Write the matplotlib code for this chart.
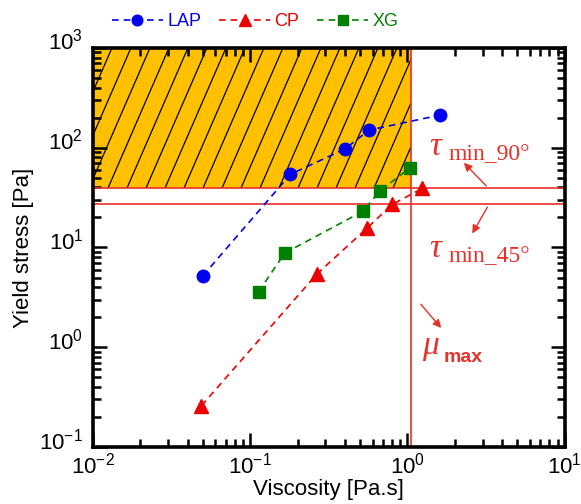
import numpy as np
import matplotlib
matplotlib.use("Agg")
import matplotlib.pyplot as plt
import matplotlib.transforms as mtransforms
from matplotlib.patches import Rectangle
from matplotlib.collections import LineCollection
from matplotlib.ticker import LogLocator, NullFormatter

plt.rcParams['font.family'] = ['Liberation Sans', 'DejaVu Sans']

# Rheology data: viscosity [Pa.s] vs yield stress [Pa]
lap_visc = [0.050, 0.18, 0.40, 0.57, 1.61]
lap_yield = [5.2, 54, 97, 150, 212]

cp_visc = [0.049, 0.265, 0.55, 0.80, 1.24]
cp_yield = [0.26, 5.4, 15.5, 27, 39]

xg_visc = [0.113, 0.166, 0.52, 0.67, 1.04]
xg_yield = [3.6, 8.8, 23, 37, 63]

# Design limits
tau_min_90 = 39.0
tau_min_45 = 27.0
mu_max = 1.05

fig = plt.figure(figsize=(5.81, 5.04), dpi=100)
ax = fig.add_axes([0.160, 0.113, 0.812, 0.792])
ax.set_xscale('log')
ax.set_yscale('log')
ax.set_xlim(1e-2, 1e1)
ax.set_ylim(1e-1, 1e3)

# Acceptable window: shaded, with slanted hatching
rect = Rectangle((1e-2, tau_min_90), mu_max - 1e-2, 1e3 - tau_min_90,
                 facecolor='#FFC000', edgecolor='none', zorder=1)
ax.add_patch(rect)
bbox = ax.get_position()
fw, fh = fig.get_size_inches() * fig.dpi
ax_w_px = bbox.width * fw
ax_h_px = bbox.height * fh
spacing = 19.0 / ax_w_px
run = (ax_h_px / 2.3) / ax_w_px
starts = np.arange(-run - spacing, 1.0 + spacing, spacing)
segs = [[(s, 0.0), (s + run, 1.0)] for s in starts]
hatch = LineCollection(segs, colors='black', linewidths=0.9,
                       transform=ax.transAxes, zorder=1.5)
ax.add_collection(hatch, autolim=False)
hatch.set_clip_path(rect.get_path(), rect.get_transform())

red = '#E8302A'
ax.axhline(tau_min_90, color=red, lw=1.2, zorder=2)
ax.axhline(tau_min_45, color=red, lw=1.2, zorder=2)
ax.axvline(mu_max, color=red, lw=1.2, zorder=2)

dash = (0, (4, 3))
ax.plot(lap_visc, lap_yield, linestyle=dash, color='#0000EE', lw=1.2,
        marker='o', ms=9, mec='#0000EE', mfc='#0000EE', label='LAP', zorder=3)
ax.plot(cp_visc, cp_yield, linestyle=dash, color='#EE0000', lw=1.2,
        marker='^', ms=9.5, mec='#EE0000', mfc='#EE0000', label='CP', zorder=3)
ax.plot(xg_visc, xg_yield, linestyle=dash, color='#008000', lw=1.2,
        marker='s', ms=8, mec='#008000', mfc='#008000', label='XG', zorder=3)

# Axes styling
for sp in ax.spines.values():
    sp.set_linewidth(2.6)
ax.xaxis.set_minor_locator(LogLocator(base=10, subs=np.arange(2, 10)))
ax.yaxis.set_minor_locator(LogLocator(base=10, subs=np.arange(2, 10)))
ax.xaxis.set_minor_formatter(NullFormatter())
ax.yaxis.set_minor_formatter(NullFormatter())
ax.tick_params(which='both', direction='in', top=True, right=True, width=1.8)
ax.tick_params(which='major', length=10, labelsize=16)
ax.tick_params(axis='x', which='major', pad=4)
ax.tick_params(axis='y', which='major', pad=7)
ax.tick_params(which='minor', length=6)
ax.set_xlabel('Viscosity [Pa.s]', fontsize=16, labelpad=0)
ax.set_ylabel('Yield stress [Pa]', fontsize=16, labelpad=4)

# Lift y tick labels slightly above their ticks
lift = mtransforms.ScaledTranslation(0, 6 / 72, fig.dpi_scale_trans)
for lbl in ax.get_yticklabels():
    lbl.set_transform(lbl.get_transform() + lift)

leg = fig.legend(loc='center left', bbox_to_anchor=(0.165, 0.957), ncol=3,
                 frameon=False, fontsize=13, handlelength=2.8,
                 columnspacing=1.0, handletextpad=0.25, labelcolor='linecolor',
                 markerscale=0.85)

# Limit annotations
serif = 'Liberation Serif'
arrow_kw = dict(arrowstyle='-|>', color=red, lw=1.0, mutation_scale=12)
ax.annotate('', xy=(0.782, 0.717), xytext=(0.838, 0.649),
            xycoords='axes fraction', arrowprops=arrow_kw, zorder=4)
ax.annotate('', xy=(0.801, 0.529), xytext=(0.839, 0.607),
            xycoords='axes fraction', arrowprops=arrow_kw, zorder=4)
ax.annotate('', xy=(0.742, 0.293), xytext=(0.691, 0.363),
            xycoords='axes fraction', arrowprops=arrow_kw, zorder=4)

ax.text(0.712, 0.752, 'τ', family=serif, style='italic', fontsize=24,
        color=red, transform=ax.transAxes, va='center')
ax.text(0.754, 0.732, 'min_90°', family=serif, fontsize=17,
        color=red, transform=ax.transAxes, va='center')
ax.text(0.712, 0.497, 'τ', family=serif, style='italic', fontsize=24,
        color=red, transform=ax.transAxes, va='center')
ax.text(0.754, 0.477, 'min_45°', family=serif, fontsize=17,
        color=red, transform=ax.transAxes, va='center')
ax.text(0.698, 0.255, 'μ', family=serif, style='italic', fontsize=24,
        color=red, transform=ax.transAxes, va='center')
ax.text(0.743, 0.225, 'max', fontsize=14, fontweight='bold',
        color=red, transform=ax.transAxes, va='center')

fig.savefig('out.png', dpi=100)
